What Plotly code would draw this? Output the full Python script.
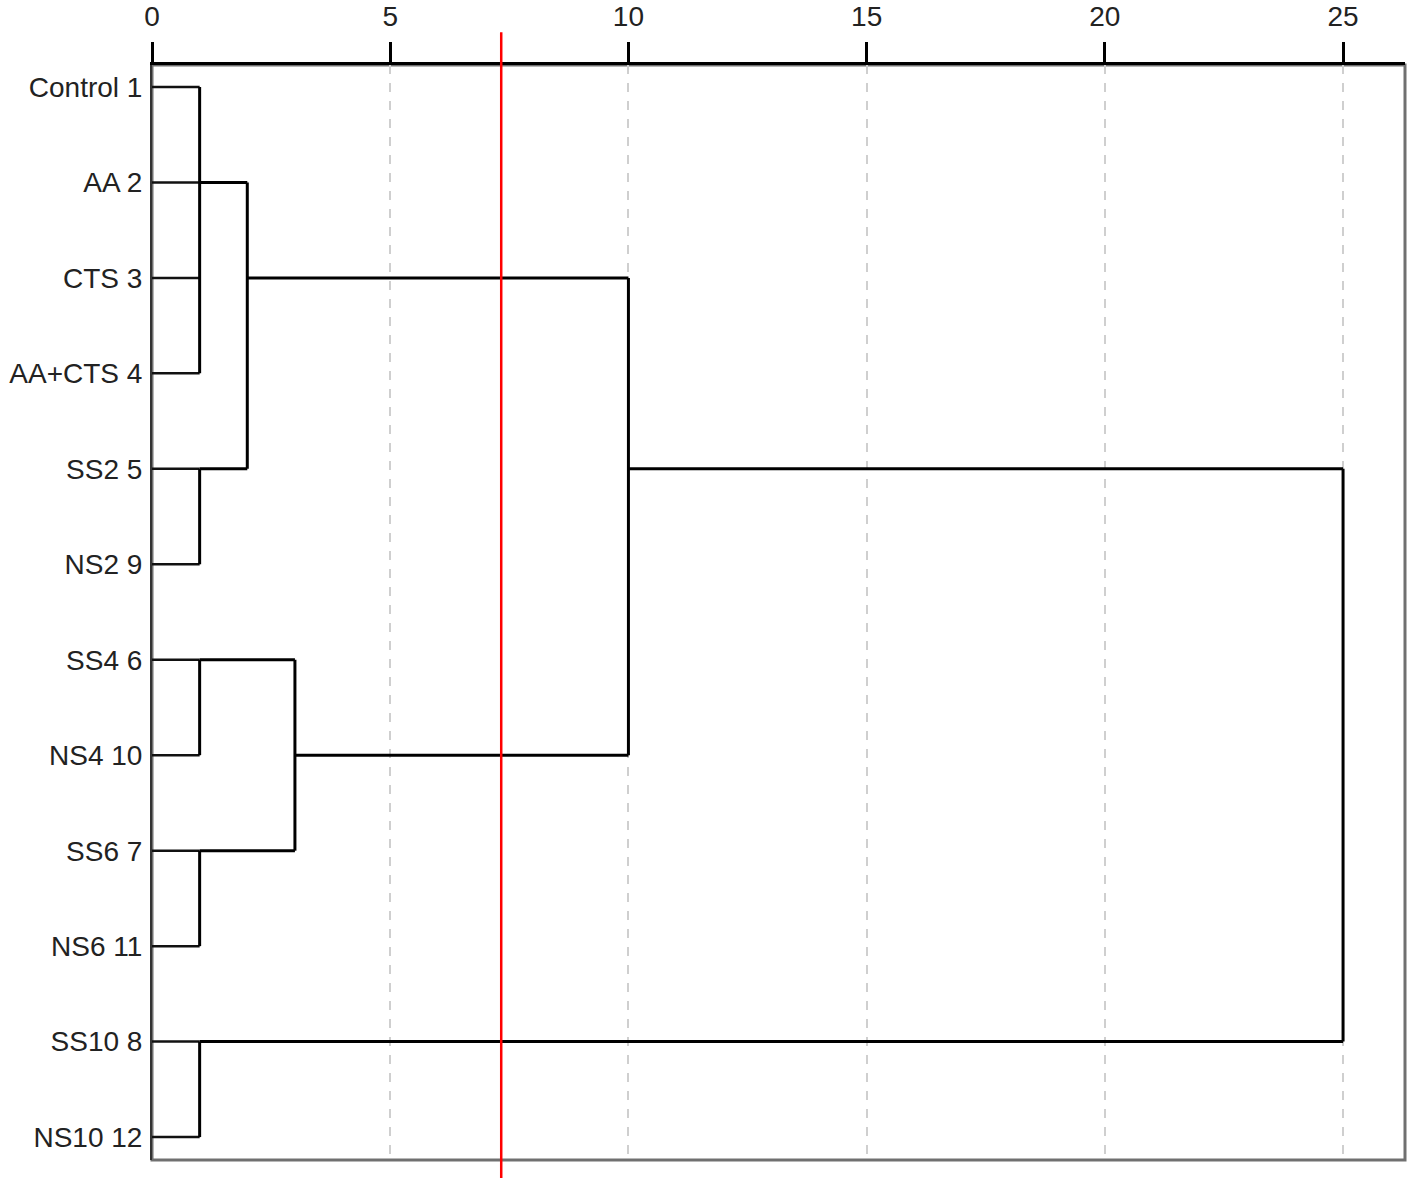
import plotly.graph_objects as go

# Leaves, top to bottom (row 1 = top)
labels = ["Control 1", "AA 2", "CTS 3", "AA+CTS 4", "SS2 5", "NS2 9",
          "SS4 6", "NS4 10", "SS6 7", "NS6 11", "SS10 8", "NS10 12"]

# Internal nodes (ids 13..21): children, rescaled distance, row where the link leaves
node_children = [[1, 2, 3, 4], [5, 6], [7, 8], [9, 10], [11, 12],
                 [13, 14], [15, 16], [18, 19], [20, 17]]
node_height = [1, 1, 1, 1, 1, 2, 3, 10, 25]
node_row = [2, 5, 7, 9, 11, 3, 8, 5, 5]

cutoff = 7.33
ticks = [0, 5, 10, 15, 20, 25]

# positions of every node
pos = {i + 1: (0, i + 1) for i in range(len(labels))}
for k, (ch, h, r) in enumerate(zip(node_children, node_height, node_row)):
    pos[len(labels) + 1 + k] = (h, r)

leaf_x, leaf_y, link_x, link_y = [], [], [], []
for ch, h in zip(node_children, node_height):
    rows = [pos[c][1] for c in ch]
    link_x += [h, h, None]
    link_y += [min(rows), max(rows), None]
    for c in ch:
        cx, cy = pos[c]
        if c <= len(labels):
            leaf_x += [cx, h, None]
            leaf_y += [cy, cy, None]
        else:
            link_x += [cx, h, None]
            link_y += [cy, cy, None]

fig = go.Figure()
fig.add_trace(go.Scatter(x=leaf_x, y=leaf_y, mode="lines",
                         line=dict(color="#111111", width=2.5), hoverinfo="skip"))
fig.add_trace(go.Scatter(x=link_x, y=link_y, mode="lines",
                         line=dict(color="black", width=3), hoverinfo="skip"))

# frame
fig.add_shape(type="rect", xref="paper", yref="paper", x0=0, x1=1, y0=0, y1=1,
              line=dict(color="#707070", width=3), layer="below")
# cut-off line
fig.add_shape(type="line", xref="x", yref="paper", x0=cutoff, x1=cutoff,
              y0=-0.0165, y1=1.03, line=dict(color="#ff0000", width=2.5))

font = dict(family="Liberation Sans, Arial, sans-serif", size=28, color="#222222")
fig.update_layout(
    width=1417, height=1187,
    margin=dict(l=152, r=12, t=65, b=27),
    paper_bgcolor="white", plot_bgcolor="white",
    showlegend=False, font=font,
    xaxis=dict(range=[0, 26.3], side="top", tickvals=ticks, automargin=False,
               ticks="outside", ticklen=20, tickwidth=2.5, tickcolor="black",
               showline=True, linecolor="black", linewidth=3,
               showgrid=True, gridcolor="#cfcfcf", griddash="dash", gridwidth=2,
               zeroline=False, tickfont=font, ticklabelstandoff=5),
    yaxis=dict(range=[12.24, 0.77], tickvals=list(range(1, len(labels) + 1)),
               ticktext=labels, ticks="", showgrid=False, zeroline=False,
               automargin=False,
               showline=True, linecolor="#333333", linewidth=2,
               ticklabelstandoff=2, tickfont=font),
)

fig.write_html("out.html", config={"displayModeBar": False},
               post_script="document.body.style.margin='0';"
                           "document.body.style.overflow='hidden';")
